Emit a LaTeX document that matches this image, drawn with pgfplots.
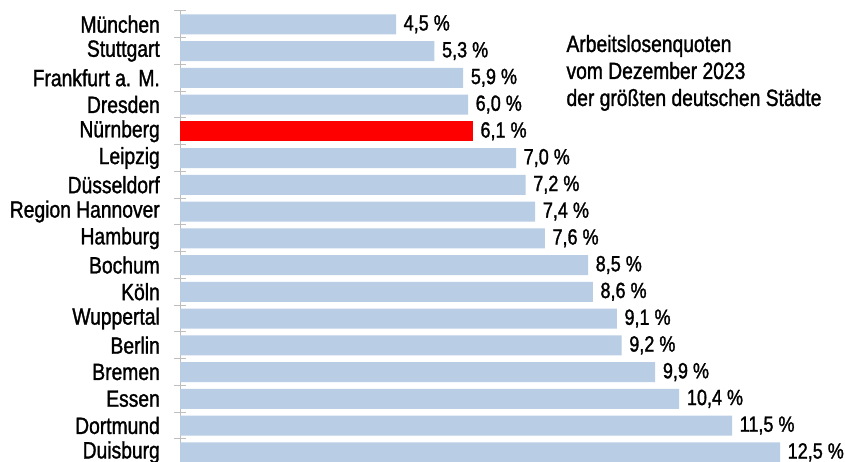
\documentclass[border=0pt]{standalone}
\usepackage{fontspec}
\setmainfont{Liberation Sans}[FakeStretch=0.82,FakeBold=1.3]
\usepackage{pgfplots}
\pgfplotsset{compat=1.18}
\definecolor{barblue}{RGB}{185,205,229}
\definecolor{axgray}{RGB}{190,190,190}
\newcommand{\lab}{\fontsize{23.5bp}{27bp}\selectfont}
\newcommand{\val}{\fontsize{22bp}{26bp}\selectfont}
\begin{document}
\begin{tikzpicture}[x=1bp,y=1bp]
\useasboundingbox (0,0) rectangle (845,462);
\begin{axis}[
  at={(180bp,0.1bp)}, anchor=south west,
  scale only axis, width=662.4bp, height=451bp,
  xmin=0, xmax=13.8,
  ymin=-0.5, ymax=16.36, y dir=reverse,
  xbar, bar width=20bp, bar shift=0pt,
  axis x line=none,
  axis y line*=left,
  y axis line style={draw=axgray, line width=0.8bp},
  ytick={0,...,16},
  yticklabels={München,Stuttgart,{Frankfurt a. M.},Dresden,Nürnberg,Leipzig,Düsseldorf,{Region Hannover},{Hamburg\hspace{4bp}},Bochum,Köln,Wuppertal,Berlin,Bremen,Essen,Dortmund,Duisburg},
  major tick length=0pt,
  minor ytick={-0.5,0.5,...,15.5},
  minor tick length=12bp, tick align=center,
  minor tick style={draw=axgray, line width=0.8bp},
  yticklabel style={font=\lab, inner sep=0pt, xshift=-20bp, anchor=east},
  point meta=x,
  nodes near coords={\pgfmathprintnumber[fixed,fixed zerofill,precision=1,use comma,assume math mode=true]{\pgfplotspointmeta}\ \%},
  every node near coord/.append style={font=\val, inner sep=0pt, xshift=7.5bp, anchor=west, text=black},
  clip=false,
]
\addplot[fill=barblue, draw=none] coordinates {
  (4.5,0) (5.3,1) (5.9,2) (6.0,3) (7.0,5) (7.2,6) (7.4,7) (7.6,8)
  (8.5,9) (8.6,10) (9.1,11) (9.2,12) (9.9,13) (10.4,14) (11.5,15) (12.5,16)
};
\addplot[fill=red, draw=none] coordinates {(6.1,4)};
\end{axis}
\node[anchor=base west, font=\lab] at (563,410) {Arbeitslosenquoten};
\node[anchor=base west, font=\lab] at (563,383) {vom Dezember 2023};
\node[anchor=base west, font=\lab] at (563,356) {der größten deutschen Städte};
\end{tikzpicture}
\end{document}
